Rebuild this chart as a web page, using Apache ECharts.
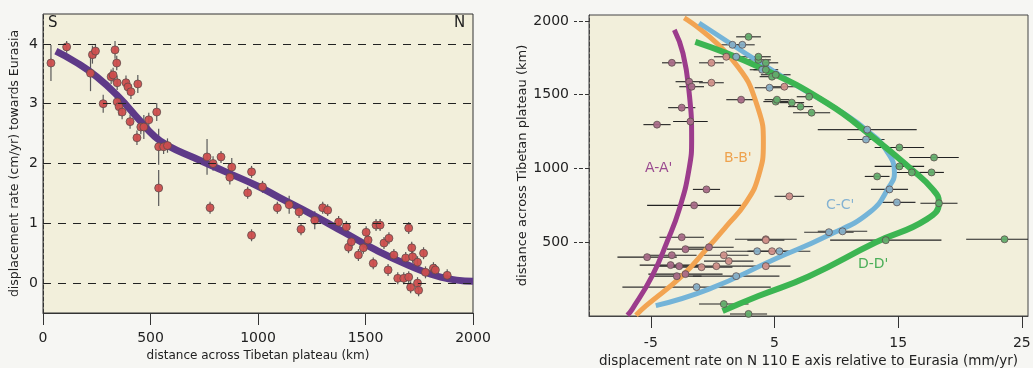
<!DOCTYPE html>
<html>
<head>
<meta charset="utf-8">
<script src="https://cdn.jsdelivr.net/npm/echarts@6/dist/echarts.min.js"></script>
<style>
  html, body { margin: 0; padding: 0; background: #f6f6f3; }
  #chart { width: 1033px; height: 368px; }
</style>
</head>
<body>
<div id="chart"></div>
<script>
// left panel: GPS rate vs distance (km, cm/yr, error)
const leftPoints = [
  [37, 3.68, 0.3], [110, 3.95, 0.1], [221, 3.51, 0.3], [230, 3.82, 0.15], [244, 3.88, 0.12],
  [335, 3.9, 0.15], [343, 3.68, 0.12], [280, 3.0, 0.15], [317, 3.45, 0.12], [326, 3.48, 0.12],
  [345, 3.35, 0.12], [386, 3.35, 0.12], [395, 3.28, 0.12], [409, 3.2, 0.12], [441, 3.33, 0.15],
  [345, 3.03, 0.12], [354, 2.95, 0.15], [368, 2.86, 0.12], [405, 2.7, 0.12], [437, 2.43, 0.12],
  [455, 2.61, 0.12], [469, 2.61, 0.2], [492, 2.73, 0.12], [529, 2.86, 0.15], [538, 2.28, 0.3],
  [561, 2.28, 0.12], [579, 2.3, 0.12], [538, 1.59, 0.3], [763, 2.11, 0.3], [791, 2.0, 0.12],
  [828, 2.11, 0.1], [878, 1.94, 0.15], [869, 1.77, 0.12], [777, 1.26, 0.1], [970, 1.86, 0.1],
  [952, 1.51, 0.1], [1021, 1.61, 0.1], [970, 0.8, 0.1], [1090, 1.26, 0.1], [1145, 1.31, 0.15],
  [1191, 1.19, 0.1], [1200, 0.9, 0.1], [1264, 1.05, 0.15], [1301, 1.26, 0.1], [1324, 1.22, 0.1],
  [1375, 1.02, 0.1], [1411, 0.94, 0.1], [1549, 0.97, 0.1], [1568, 0.97, 0.1], [1503, 0.85, 0.1],
  [1701, 0.92, 0.1], [1421, 0.6, 0.1], [1434, 0.69, 0.1], [1490, 0.59, 0.1], [1467, 0.47, 0.1],
  [1536, 0.33, 0.1], [1586, 0.67, 0.1], [1609, 0.75, 0.1], [1605, 0.22, 0.1], [1632, 0.47, 0.1],
  [1687, 0.42, 0.1], [1715, 0.59, 0.1], [1719, 0.44, 0.1], [1742, 0.35, 0.1], [1770, 0.5, 0.1],
  [1650, 0.08, 0.1], [1678, 0.08, 0.1], [1701, 0.1, 0.1], [1710, -0.07, 0.1], [1742, 0.0, 0.1],
  [1747, -0.12, 0.1], [1779, 0.18, 0.1], [1816, 0.25, 0.1], [1825, 0.22, 0.1], [1880, 0.13, 0.1],
  [1512, 0.72, 0.1]
]
const leftCurve = [
  [60, 3.88], [150, 3.7], [250, 3.45], [350, 3.12], [450, 2.72], [520, 2.45], [580, 2.3],
  [700, 2.1], [850, 1.86], [1000, 1.62], [1100, 1.43], [1250, 1.15], [1400, 0.85],
  [1550, 0.55], [1700, 0.3], [1850, 0.1], [2000, 0.03]
]
const leftXTicks = [0, 500, 1000, 1500, 2000]
const leftYTicks = [0, 1, 2, 3, 4]

// right panel: rate on N110E (mm/yr), distance (km), error
const pointsA = [
  [-3.3, 1716, 0.8], [-1.9, 1588, 1.1], [-1.7, 1554, 1.0], [-2.5, 1412, 1.1], [-1.8, 1318, 1.4],
  [-4.5, 1297, 1.1], [-0.5, 858, 1.1], [-1.5, 750, 3.8], [-2.5, 534, 1.8], [-0.3, 466, 2.0],
  [-2.2, 453, 1.5], [-5.3, 399, 2.4], [-3.3, 412, 2.0], [-3.4, 345, 2.5], [-2.7, 338, 2.0],
  [-2.2, 284, 3.0], [-2.9, 270, 2.0], [2.3, 1466, 1.2]
]
const pointsB = [
  [-0.1, 1581, 1.0], [-0.1, 1716, 1.0], [1.1, 1757, 1.0], [0.9, 412, 2.0], [1.3, 372, 2.0],
  [0.3, 338, 2.0], [-0.9, 331, 2.5], [4.3, 520, 2.5], [4.3, 338, 2.0], [6.2, 811, 1.2],
  [4.3, 514, 1.5], [5.8, 1554, 1.0], [4.8, 439, 2.0]
]
const pointsC = [
  [1.6, 1838, 1.0], [-1.3, 196, 6.0], [3.6, 439, 2.5], [1.9, 270, 3.5], [4.6, 1547, 1.2],
  [2.4, 1838, 1.0], [1.9, 1757, 1.0], [12.5, 1263, 4.0], [12.4, 1196, 1.5], [14.3, 858, 1.5],
  [14.9, 770, 1.5], [9.4, 568, 2.0], [10.5, 574, 2.0], [5.4, 439, 2.5], [4.0, 1669, 1.0]
]
const pointsD = [
  [2.9, 1892, 1.0], [3.7, 1736, 1.0], [4.3, 1669, 1.0], [4.8, 1622, 1.0], [5.1, 1453, 1.0],
  [3.7, 1757, 1.0], [4.3, 1716, 1.0], [5.1, 1635, 1.2], [5.2, 1466, 1.0], [6.4, 1446, 1.0],
  [7.1, 1419, 1.0], [7.8, 1486, 1.0], [8.0, 1378, 1.5], [15.1, 1142, 2.0], [17.9, 1074, 2.0],
  [13.3, 946, 1.0], [15.1, 1014, 2.0], [16.1, 973, 1.5], [17.7, 973, 1.0], [18.3, 764, 1.5],
  [14.0, 514, 4.5], [23.6, 520, 3.1], [0.9, 81, 2.0], [2.9, 14, 1.5]
]
const curveA = [
  [-3.1, 1940], [-2.4, 1780], [-1.9, 1513], [-1.7, 1200], [-1.9, 1000], [-2.7, 723],
  [-3.7, 500], [-4.9, 270], [-6.5, 47], [-6.9, 5]
]
const curveB = [
  [-2.3, 2020], [1.6, 1736], [3.7, 1399], [4.1, 1176], [3.7, 946], [2.7, 770],
  [1.1, 608], [-0.5, 453], [-2.5, 270], [-5.4, 68], [-6.2, 5]
]
const curveC = [
  [-1.1, 1986], [6.4, 1581], [10.5, 1378], [12.7, 1243], [14.0, 1128], [14.7, 973],
  [14.3, 880], [12.7, 703], [9.2, 541], [5.0, 385], [-0.3, 182], [-4.6, 70]
]
const curveD = [
  [-1.4, 1858], [3.7, 1689], [9.2, 1446], [13.2, 1196], [16, 1000], [17.8, 858],
  [18.3, 770], [17.3, 655], [13.2, 500], [7.8, 270], [3.7, 135], [0.8, 34]
]
const rightXTicks = [-5, 5, 15, 25]
const rightYTicks = [500, 1000, 1500, 2000]

const font = 'DejaVu Sans'
const myChart = echarts.init(document.getElementById('chart'))

function vBars(data, color) {
  return {
    type: 'custom', xAxisIndex: 0, yAxisIndex: 0, clip: true, z: 2,
    data: data,
    encode: { x: 0, y: 1 },
    renderItem(params, api) {
      const p1 = api.coord([api.value(0), api.value(1) - api.value(2)])
      const p2 = api.coord([api.value(0), api.value(1) + api.value(2)])
      return { type: 'line', shape: { x1: p1[0], y1: p1[1], x2: p2[0], y2: p2[1] }, style: { stroke: color, lineWidth: 1.2 } }
    },
  }
}
function hBars(data, color) {
  return {
    type: 'custom', xAxisIndex: 1, yAxisIndex: 1, clip: true, z: 2,
    data: data,
    encode: { x: 0, y: 1 },
    renderItem(params, api) {
      const p1 = api.coord([api.value(0) - api.value(2), api.value(1)])
      const p2 = api.coord([api.value(0) + api.value(2), api.value(1)])
      return { type: 'line', shape: { x1: p1[0], y1: p1[1], x2: p2[0], y2: p2[1] }, style: { stroke: color, lineWidth: 1.1 } }
    },
  }
}
function dots(data, color, xi, size) {
  return {
    type: 'scatter', xAxisIndex: xi, yAxisIndex: xi, z: 4,
    data: data.map((d) => [d[0], d[1]]),
    symbolSize: size,
    itemStyle: { color: color, borderColor: '#5a4a4a', borderWidth: 0.8, opacity: 0.95 },
  }
}
function curve(data, color, width, xi) {
  return {
    type: 'line', xAxisIndex: xi, yAxisIndex: xi, z: 3,
    data: data, smooth: 0.5, symbol: 'none',
    lineStyle: { color: color, width: width },
  }
}

const axisText = { color: '#222', fontFamily: font, fontSize: 14, formatter: (v) => String(v) }
const nameText = { color: '#222', fontFamily: font }

let option = {
  backgroundColor: '#f6f6f3',
  animation: false,
  grid: [
    { left: 43, right: 560, top: 14, bottom: 55, outerBoundsMode: 'none', show: true, backgroundColor: '#f2efdb', borderColor: '#333', borderWidth: 1 },
    { left: 589, right: 5, top: 15, bottom: 52, outerBoundsMode: 'none', show: true, backgroundColor: '#f2efdb', borderColor: '#444', borderWidth: 1 },
  ],
  xAxis: [
    {
      type: 'value', gridIndex: 0, min: 0, max: 2000,
      axisLine: { onZero: false, lineStyle: { color: '#333' } },
      axisTick: { customValues: leftXTicks, length: 12, inside: false, lineStyle: { color: '#333' } },
      axisLabel: { customValues: leftXTicks, margin: 18, ...axisText },
      splitLine: { show: false },
      name: 'distance across Tibetan plateau (km)', nameLocation: 'middle', nameGap: 34,
      nameTextStyle: { ...nameText, fontSize: 12 },
    },
    {
      type: 'value', gridIndex: 1, min: -10, max: 25.5,
      axisLine: { onZero: false, lineStyle: { color: '#444' } },
      axisTick: { customValues: rightXTicks, length: 12, lineStyle: { color: '#333' } },
      axisLabel: { customValues: rightXTicks, margin: 20, ...axisText },
      splitLine: { show: false },
      name: 'displacement rate on N 110 E axis relative to Eurasia (mm/yr)', nameLocation: 'middle', nameGap: 37,
      nameTextStyle: { ...nameText, fontSize: 13.5 },
    },
  ],
  yAxis: [
    {
      type: 'value', gridIndex: 0, min: -0.5, max: 4.5,
      axisLine: { onZero: false, lineStyle: { color: '#333', type: 'dashed' } },
      axisTick: { show: false },
      axisLabel: { customValues: leftYTicks, margin: 5, ...axisText },
      splitLine: { show: false },
      name: 'displacement rate (cm/yr) towards Eurasia', nameLocation: 'middle', nameGap: 22,
      nameTextStyle: { ...nameText, fontSize: 12.5 },
    },
    {
      type: 'value', gridIndex: 1, min: 0, max: 2040,
      axisLine: { onZero: false, lineStyle: { color: '#444', type: 'dashed' } },
      axisTick: { customValues: rightYTicks, length: 15, lineStyle: { color: '#333', type: 'dashed' } },
      axisLabel: { customValues: rightYTicks, margin: 20, ...axisText },
      splitLine: { show: false },
      name: 'distance across Tibetan plateau (km)', nameLocation: 'middle', nameGap: 58,
      nameTextStyle: { ...nameText, fontSize: 13 },
    },
  ],
  graphic: [
    { type: 'text', left: 48, top: 16, style: { text: 'S', font: '15px ' + font, fill: '#222' } },
    { type: 'text', left: 454, top: 16, style: { text: 'N', font: '15px ' + font, fill: '#222' } },
    { type: 'text', left: 645, top: 161, style: { text: "A-A'", font: '14px ' + font, fill: '#9a4a90' } },
    { type: 'text', left: 724, top: 151, style: { text: "B-B'", font: '14px ' + font, fill: '#eea24e' } },
    { type: 'text', left: 826, top: 198, style: { text: "C-C'", font: '14px ' + font, fill: '#84b2d2' } },
    { type: 'text', left: 858, top: 257, style: { text: "D-D'", font: '14px ' + font, fill: '#4aae58' } },
  ],
  series: [
    {
      type: 'line', xAxisIndex: 0, yAxisIndex: 0, data: [], symbol: 'none', silent: true,
      markLine: {
        silent: true, symbol: 'none', label: { show: false },
        lineStyle: { color: '#222', type: [8, 7], width: 1.2 },
        data: leftYTicks.map((v) => ({ yAxis: v })),
      },
    },
    vBars(leftPoints, '#5a5a5a'),
    curve(leftCurve, '#5e3a88', 7, 0),
    dots(leftPoints, '#cc4d4d', 0, 8),

    hBars(pointsA, '#222'),
    hBars(pointsB, '#333'),
    hBars(pointsC, '#333'),
    hBars(pointsD, '#222'),
    curve(curveA, '#9c3c8c', 5, 1),
    curve(curveB, '#f2a452', 5, 1),
    curve(curveC, '#74b4d8', 5, 1),
    curve(curveD, '#3cb552', 6, 1),
    dots(pointsA, '#a86a88', 1, 7),
    dots(pointsB, '#d0908a', 1, 7),
    dots(pointsC, '#86aec6', 1, 7),
    dots(pointsD, '#62ac6c', 1, 7),
  ],
}
myChart.setOption(option)
</script>
</body>
</html>
